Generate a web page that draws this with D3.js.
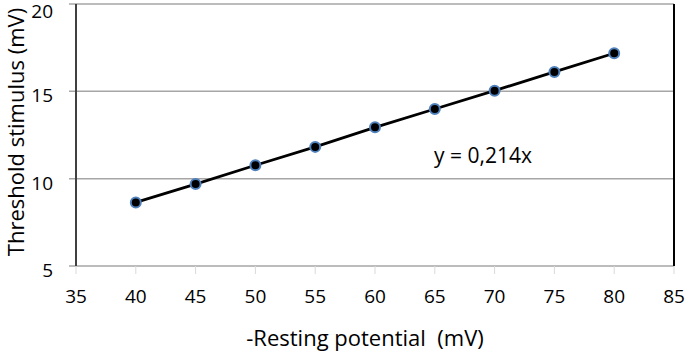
<!DOCTYPE html>
<meta charset="UTF-8">
<script src="https://d3js.org/d3.v7.min.js"></script>
<style>
  body { margin: 0; background: #fff; }
  text { font-family: "Open Sans", sans-serif; fill: #000; white-space: pre; }
</style>
<div id="chart"></div>
<script>
  // Data
  const restingPotential = [40, 45, 50, 55, 60, 65, 70, 75, 80];
  const thresholdStimulus = [8.64, 9.69, 10.77, 11.82, 12.94, 13.99, 15.04, 16.11, 17.18];
  const xTicks = [35, 40, 45, 50, 55, 60, 65, 70, 75, 80, 85];
  const yTicks = [5, 10, 15, 20];
  const equationLabel = "y = 0,214x";

  const W = 685, H = 354;
  const margin = {top: 4, right: 11, bottom: 88, left: 76};

  const svg = d3.select("#chart").append("svg")
    .attr("width", W).attr("height", H);

  const x = d3.scaleLinear().domain([35, 85]).range([margin.left, W - margin.right]);
  const y = d3.scaleLinear().domain([5, 20]).range([H - margin.bottom, margin.top]);

  // horizontal gridlines (incl. top border and bottom axis)
  svg.append("g")
    .selectAll("line")
    .data(yTicks)
    .join("line")
    .attr("x1", x(35) - 7)
    .attr("x2", x(85))
    .attr("y1", d => y(d))
    .attr("y2", d => y(d))
    .attr("stroke", "#a6a6a6")
    .attr("stroke-width", 1.5);

  // bottom tick marks
  svg.append("g")
    .selectAll("line")
    .data(xTicks)
    .join("line")
    .attr("x1", d => x(d))
    .attr("x2", d => x(d))
    .attr("y1", y(5))
    .attr("y2", y(5) + 8)
    .attr("stroke", "#d9d9d9")
    .attr("stroke-width", 1);

  // left axis line
  svg.append("line")
    .attr("x1", x(35)).attr("x2", x(35))
    .attr("y1", y(20)).attr("y2", y(5))
    .attr("stroke", "#404040").attr("stroke-width", 2);

  // right border
  svg.append("line")
    .attr("x1", x(85)).attr("x2", x(85))
    .attr("y1", y(20)).attr("y2", y(5))
    .attr("stroke", "#000").attr("stroke-width", 2);

  // tick labels
  svg.append("g")
    .selectAll("text")
    .data(yTicks)
    .join("text")
    .attr("x", 53)
    .attr("y", d => Math.max(y(d) + 11, 18))
    .attr("text-anchor", "end")
    .style("font-size", "19px")
    .text(d => d);

  svg.append("g")
    .selectAll("text")
    .data(xTicks)
    .join("text")
    .attr("x", d => x(d))
    .attr("y", 303)
    .attr("text-anchor", "middle")
    .style("font-size", "19px")
    .text(d => d);

  // line through points
  const pts = restingPotential.map((d, i) => [d, thresholdStimulus[i]]);
  svg.append("path")
    .datum(pts)
    .attr("fill", "none")
    .attr("stroke", "#000")
    .attr("stroke-width", 2.8)
    .attr("d", d3.line().x(d => x(d[0])).y(d => y(d[1])));

  svg.append("g")
    .selectAll("circle")
    .data(pts)
    .join("circle")
    .attr("cx", d => x(d[0]))
    .attr("cy", d => y(d[1]))
    .attr("r", 5)
    .attr("fill", "#000")
    .attr("stroke", "#4f81bd")
    .attr("stroke-width", 2);

  // equation
  svg.append("text")
    .attr("x", 434)
    .attr("y", 163)
    .style("font-size", "21px")
    .text(equationLabel);

  // axis titles
  svg.append("text")
    .attr("x", 365)
    .attr("y", 346)
    .attr("text-anchor", "middle")
    .style("font-size", "22px")
    .text("-Resting potential  (mV)");

  svg.append("text")
    .attr("transform", `translate(24, 132) rotate(-90)`)
    .attr("text-anchor", "middle")
    .style("font-size", "22px")
    .text("Threshold stimulus (mV)");
</script>
